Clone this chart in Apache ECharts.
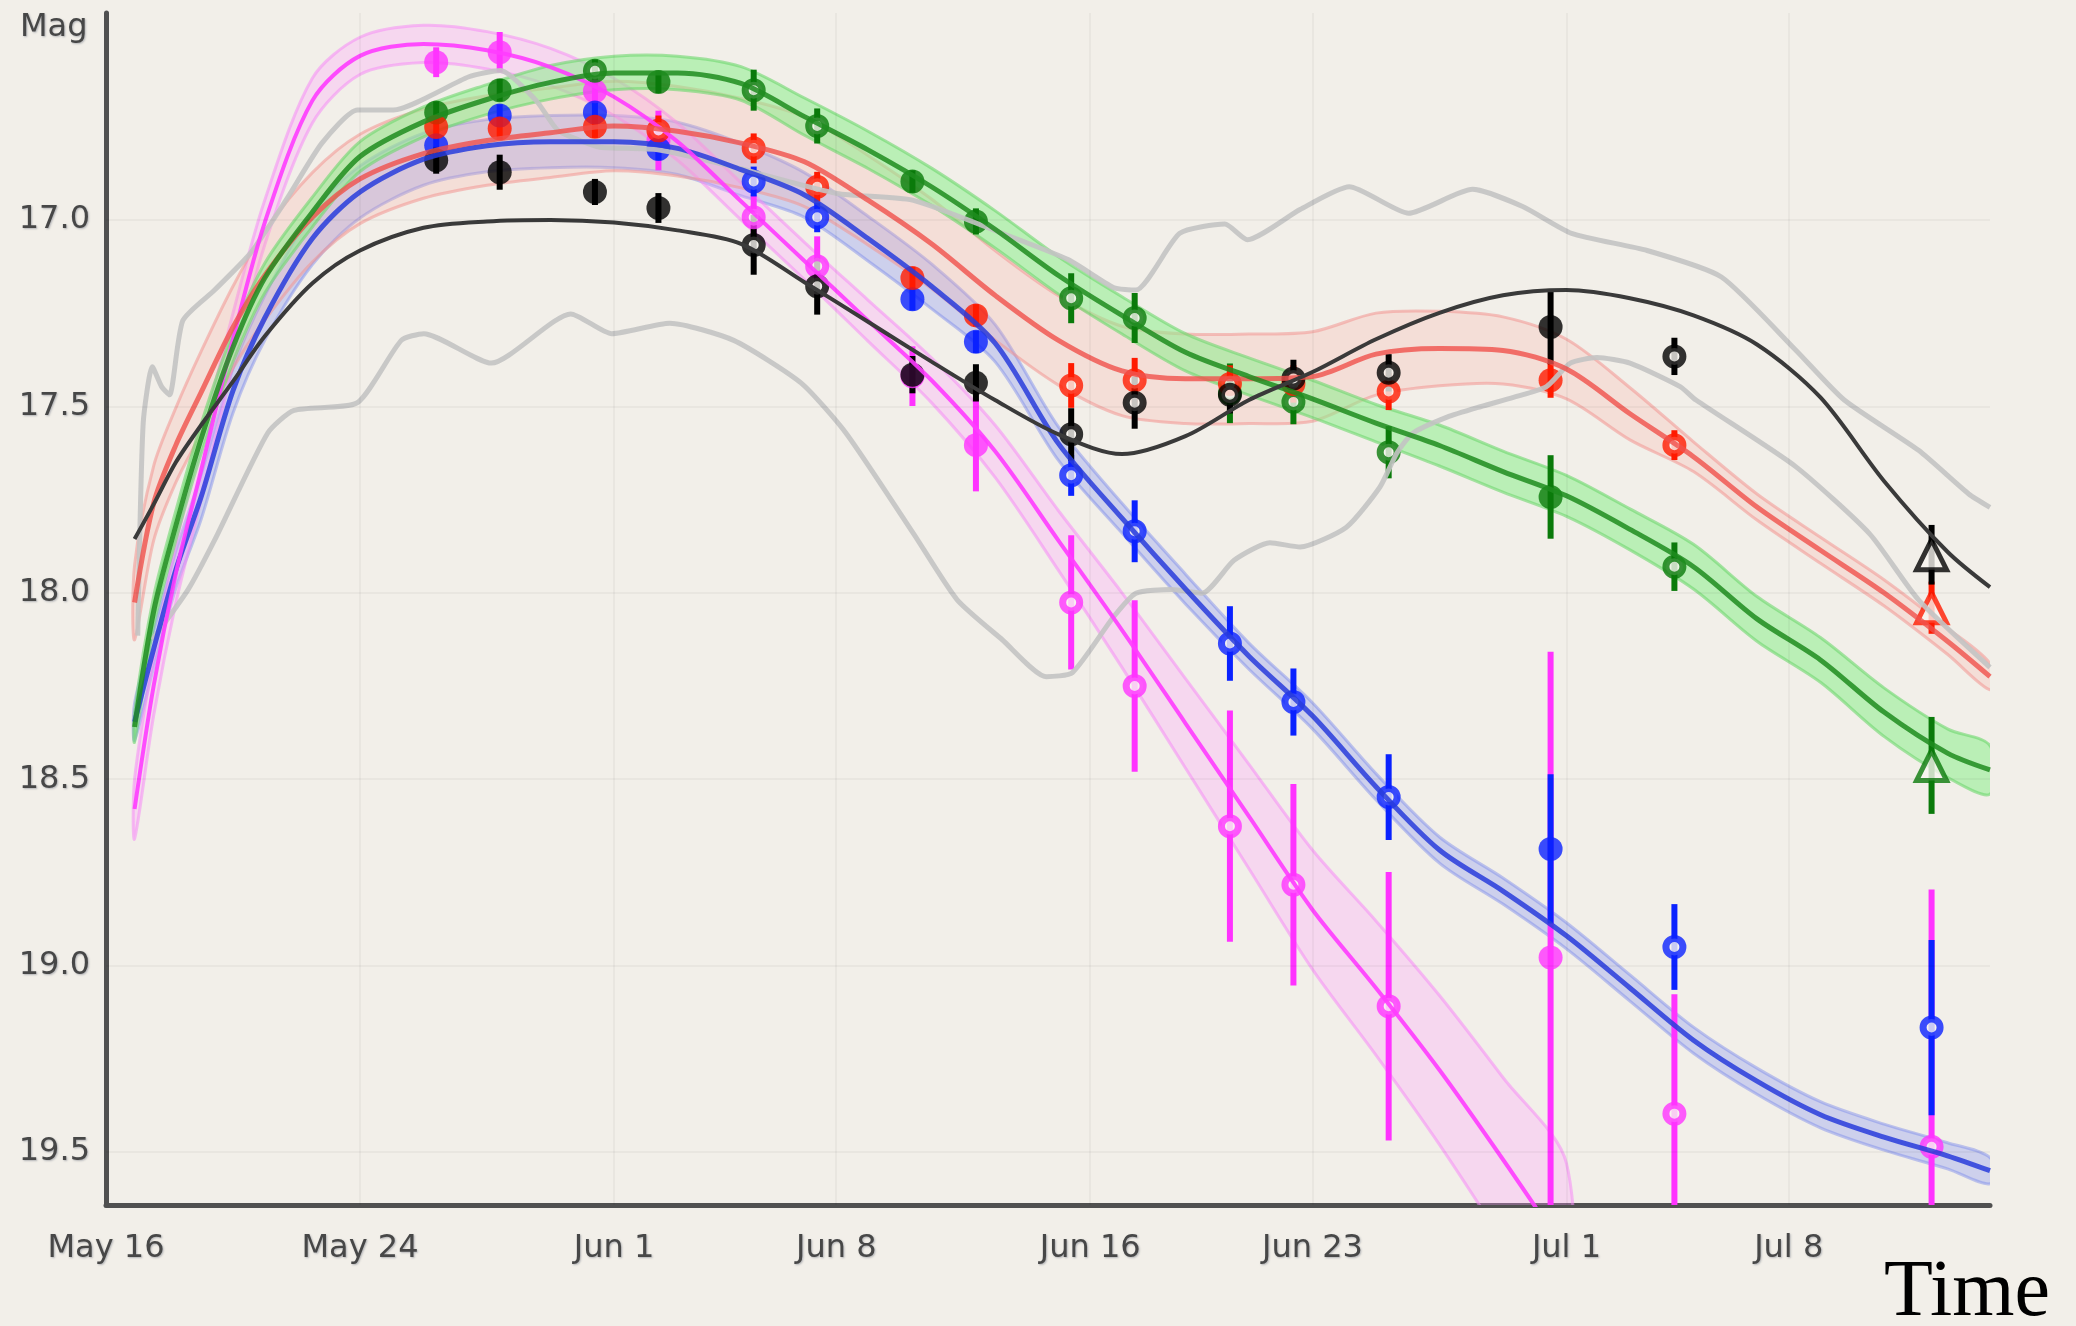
<!DOCTYPE html>
<html><head><meta charset="utf-8">
<script src="https://cdn.jsdelivr.net/npm/echarts@6/dist/echarts.min.js"></script>
<style>html,body{margin:0;padding:0;background:#f2efe9;}#c{width:2076px;height:1326px;}</style>
</head><body><div id="c"></div>
<script>
// ---- axis ticks ----
const xTickDays = [0, 8, 16, 23, 31, 38, 46, 53];
const xTickLabels = ['May 16', 'May 24', 'Jun 1', 'Jun 8', 'Jun 16', 'Jun 23', 'Jul 1', 'Jul 8'];
const yTicks = [17.0, 17.5, 18.0, 18.5, 19.0, 19.5];

// ---- observations (days since May 16) ----
const obsDay = [10.4, 12.4, 15.4, 17.4, 20.4, 22.4, 25.4, 27.4, 30.4, 32.4, 35.4, 37.4, 40.4, 45.5, 49.4, 57.5];
const greenMag = [16.712, 16.652, 16.600, 16.630, 16.652, 16.748, 16.897, 17.004, 17.210, 17.263, 17.465, 17.488, 17.623, 17.743, 17.930, 18.463];
const greenErr = [0.03, 0.03, 0.03, 0.03, 0.055, 0.047, 0.03, 0.035, 0.067, 0.067, 0.08, 0.06, 0.07, 0.112, 0.065, 0.13];
const greenKind = ['f','f','o','f','o','o','f','f','o','o','o','o','o','f','o','t'];
const redMag = [16.751, 16.755, 16.750, 16.760, 16.808, 16.911, 17.156, 17.256, 17.444, 17.430, 17.440, 17.440, 17.460, 17.430, 17.604, 18.040];
const redErr = [0.03, 0.03, 0.03, 0.04, 0.04, 0.04, 0.03, 0.03, 0.06, 0.06, 0.05, 0.05, 0.05, 0.047, 0.04, 0.07];
const redKind = ['f','f','f','o','o','o','f','f','o','o','o','o','o','f','o','t'];
const blueMag = [16.800, 16.720, 16.712, 16.810, 16.897, 16.993, 17.213, 17.327, 17.685, 17.835, 18.136, 18.293, 18.548, 18.687, 18.950, 19.166];
const blueErr = [0.03, 0.03, 0.03, 0.03, 0.04, 0.04, 0.03, 0.03, 0.055, 0.083, 0.1, 0.09, 0.115, 0.2, 0.115, 0.235];
const blueKind = ['f','f','f','f','o','o','f','f','o','o','o','o','o','f','o','o'];
const magentaMag = [16.577, 16.550, 16.655, 16.787, 16.993, 17.124, 17.419, 17.604, 18.026, 18.250, 18.626, 18.783, 19.109, 18.978, 19.397, 19.486];
const magentaErr = [0.04, 0.054, 0.03, 0.08, 0.06, 0.08, 0.08, 0.124, 0.18, 0.23, 0.31, 0.27, 0.36, 0.82, 0.32, 0.69];
const magentaKind = ['f','f','f','f','o','o','f','f','o','o','o','o','o','f','o','o'];
const blackMag = [16.840, 16.872, 16.925, 16.968, 17.067, 17.178, 17.415, 17.437, 17.575, 17.490, 17.469, 17.425, 17.410, 17.287, 17.366, 17.898];
const blackErr = [0.036, 0.047, 0.035, 0.04, 0.08, 0.076, 0.05, 0.05, 0.07, 0.07, 0.05, 0.05, 0.05, 0.1, 0.05, 0.08];
const blackKind = ['f','f','f','f','o','o','f','f','o','o','o','o','o','f','o','t'];

// ---- model curves ----
const modelDay = [0.9, 1.5, 2.2, 3, 4, 5, 6.5, 8, 10, 12, 14, 16, 18, 20, 22, 24, 26, 28, 30, 32, 34, 36, 38, 40, 42, 44, 46, 48, 50, 52, 54, 56, 58, 59.34];
const blackModel = [17.856, 17.763, 17.65, 17.55, 17.433, 17.312, 17.17, 17.082, 17.021, 17.004, 17.000, 17.007, 17.028, 17.064, 17.167, 17.273, 17.380, 17.483, 17.575, 17.628, 17.580, 17.483, 17.408, 17.320, 17.249, 17.202, 17.188, 17.210, 17.256, 17.334, 17.476, 17.700, 17.890, 17.985];
const greenModel = [18.36, 18.05, 17.82, 17.586, 17.341, 17.156, 16.979, 16.830, 16.737, 16.677, 16.631, 16.606, 16.606, 16.634, 16.723, 16.812, 16.911, 17.025, 17.149, 17.256, 17.355, 17.42, 17.48, 17.545, 17.605, 17.675, 17.74, 17.83, 17.93, 18.07, 18.18, 18.32, 18.43, 18.475];
const greenBand = [0.04, 0.04, 0.04, 0.04, 0.04, 0.04, 0.04, 0.04, 0.04, 0.04, 0.045, 0.045, 0.045, 0.045, 0.05, 0.05, 0.05, 0.05, 0.05, 0.05, 0.05, 0.05, 0.05, 0.05, 0.055, 0.055, 0.055, 0.055, 0.06, 0.06, 0.06, 0.065, 0.065, 0.065];
const redModel = [18.026, 17.760, 17.604, 17.462, 17.288, 17.149, 16.993, 16.890, 16.822, 16.787, 16.766, 16.748, 16.762, 16.794, 16.844, 16.947, 17.064, 17.202, 17.323, 17.405, 17.426, 17.426, 17.42, 17.36, 17.345, 17.35, 17.40, 17.52, 17.635, 17.77, 17.886, 18.0, 18.13, 18.225];
const redBand = [0.1, 0.1, 0.1, 0.11, 0.11, 0.12, 0.12, 0.12, 0.12, 0.12, 0.12, 0.12, 0.12, 0.12, 0.12, 0.12, 0.12, 0.12, 0.12, 0.12, 0.12, 0.12, 0.12, 0.11, 0.10, 0.09, 0.08, 0.07, 0.04, 0.035, 0.035, 0.035, 0.035, 0.035];
const blueModel = [18.346, 18.151, 17.938, 17.742, 17.458, 17.263, 17.050, 16.925, 16.837, 16.801, 16.790, 16.790, 16.808, 16.865, 16.933, 17.050, 17.178, 17.33, 17.60, 17.80, 17.99, 18.17, 18.33, 18.52, 18.69, 18.80, 18.92, 19.06, 19.20, 19.31, 19.40, 19.46, 19.51, 19.55];
const blueBand = [0.05, 0.05, 0.05, 0.06, 0.06, 0.06, 0.07, 0.07, 0.07, 0.07, 0.07, 0.07, 0.07, 0.07, 0.06, 0.06, 0.06, 0.05, 0.045, 0.04, 0.04, 0.035, 0.035, 0.035, 0.035, 0.035, 0.035, 0.035, 0.035, 0.035, 0.035, 0.035, 0.035, 0.035];
const magentaModel = [18.58, 18.25, 17.948, 17.67, 17.32, 17.007, 16.68, 16.56, 16.528, 16.545, 16.59, 16.67, 16.79, 16.95, 17.11, 17.27, 17.43, 17.62, 17.86, 18.10, 18.35, 18.60, 18.85, 19.06, 19.28, 19.52, 19.77];
const magentaBand = [0.08, 0.08, 0.08, 0.08, 0.07, 0.06, 0.06, 0.05, 0.05, 0.05, 0.05, 0.05, 0.05, 0.05, 0.05, 0.055, 0.06, 0.07, 0.08, 0.1, 0.12, 0.14, 0.16, 0.18, 0.2, 0.22, 0.24];

// ---- grey envelope curves ----
const grayUpDay = [1.0, 1.17, 1.46, 1.75, 2.0, 2.42, 3.42, 4.55, 5.67, 6.80, 7.92, 9.05, 11.43, 12.43, 13.55, 14.22, 14.93, 15.55, 17.39, 19.77, 23.02, 25.40, 28.23, 30.32, 31.73, 32.44, 33.82, 35.24, 35.95, 37.61, 39.16, 41.03, 43.04, 44.62, 46.16, 48.54, 50.88, 53.21, 54.75, 57.09, 58.67, 59.34];
const grayUpMag = [18.115, 17.547, 17.394, 17.447, 17.469, 17.270, 17.188, 17.089, 16.947, 16.794, 16.705, 16.705, 16.616, 16.599, 16.680, 16.759, 16.787, 16.805, 16.812, 16.858, 16.929, 16.947, 17.036, 17.107, 17.181, 17.188, 17.036, 17.011, 17.053, 16.972, 16.911, 16.982, 16.918, 16.964, 17.036, 17.082, 17.153, 17.348, 17.483, 17.618, 17.735, 17.771];
const grayLoDay = [1.46, 2.59, 3.42, 5.09, 5.92, 7.92, 9.30, 10.01, 12.14, 14.64, 15.93, 17.76, 19.77, 21.89, 23.31, 25.44, 26.81, 28.23, 29.61, 30.44, 31.73, 32.44, 33.57, 34.53, 35.53, 36.66, 37.61, 39.07, 40.12, 40.66, 41.16, 42.24, 43.29, 44.33, 45.37, 46.12, 46.96, 48.00, 49.58, 50.08, 53.21, 55.55, 57.09, 59.34];
const grayLoMag = [18.126, 17.991, 17.859, 17.572, 17.511, 17.490, 17.323, 17.305, 17.384, 17.252, 17.305, 17.277, 17.323, 17.437, 17.572, 17.842, 18.019, 18.126, 18.225, 18.214, 18.065, 18.001, 17.991, 18.001, 17.913, 17.866, 17.877, 17.824, 17.717, 17.625, 17.572, 17.529, 17.501, 17.476, 17.447, 17.384, 17.369, 17.384, 17.447, 17.483, 17.661, 17.842, 18.019, 18.200];

// ---- styling ----
const COL = { green: '#0a7a0a', red: '#ff1a00', blue: '#0a22ff', magenta: '#ff33ff', black: '#000000' };
const OPEN_FILL = '#f7f5f0';

function clipRect(cs) { return { type: 'rect', shape: { x: cs.x, y: cs.y, width: cs.width, height: cs.height } }; }

function bandSeries(days, mid, hw, fill, stroke) {
  return {
    type: 'custom', silent: true, animation: false,
    data: [[days[0], mid[0]]], encode: { x: 0, y: 1 },
    renderItem: function (params, api) {
      const cs = params.coordSys;
      const top = days.map((d, i) => api.coord([d, mid[i] - hw[i]]));
      const bot = days.map((d, i) => api.coord([d, mid[i] + hw[i]])).reverse();
      return { type: 'polygon', shape: { points: top.concat(bot), smooth: 0.3 },
        style: { fill: fill, stroke: stroke, lineWidth: 3 }, clipPath: clipRect(cs) };
    }
  };
}
function lineSeries(days, mags, color, width, smooth) {
  return { type: 'line', silent: true, showSymbol: false, symbol: 'none', smooth: smooth, animation: false,
    data: days.map((d, i) => [d, mags[i]]), lineStyle: { color: color, width: width } };
}
function errSeries(mags, errs, color) {
  return {
    type: 'custom', silent: true, animation: false,
    data: obsDay.map((d, i) => [d, mags[i], errs[i]]), encode: { x: 0, y: 1 },
    renderItem: function (params, api) {
      const cs = params.coordSys;
      const x = api.value(0), y = api.value(1), e = api.value(2);
      const p1 = api.coord([x, y - e]), p2 = api.coord([x, y + e]);
      const lo = cs.y, hi = cs.y + cs.height;
      return { type: 'line', shape: { x1: p1[0], y1: Math.max(lo, Math.min(hi, p1[1])), x2: p2[0], y2: Math.max(lo, Math.min(hi, p2[1])) },
        style: { stroke: color, lineWidth: 6 } };
    }
  };
}
function pointSeries(mags, kinds, color) {
  return {
    type: 'scatter', silent: true, animation: false,
    data: obsDay.map((d, i) => {
      const k = kinds[i];
      if (k === 'f') return { value: [d, mags[i]], symbol: 'circle', symbolSize: 24, itemStyle: { color: color, borderWidth: 0 } };
      if (k === 't') return { value: [d, mags[i]], symbol: 'triangle', symbolSize: 30, itemStyle: { color: OPEN_FILL, borderColor: color, borderWidth: 5 } };
      return { value: [d, mags[i]], symbol: 'circle', symbolSize: 17, itemStyle: { color: OPEN_FILL, borderColor: color, borderWidth: 7 } };
    })
  };
}

const labelFont = { fontFamily: 'DejaVu Sans', fontSize: 32, color: '#474747',
  textShadowColor: 'rgba(60,70,90,0.35)', textShadowBlur: 2, textShadowOffsetX: 1, textShadowOffsetY: 1 };

const gridMarks = yTicks.map(v => ({ yAxis: v })).concat(xTickDays.slice(1).map(v => ({ xAxis: v })));

const magDays = modelDay.slice(0, magentaModel.length);

const series = [
  { type: 'line', silent: true, data: [[0, 17]], showSymbol: false, lineStyle: { opacity: 0 },
    markLine: { silent: true, symbol: ['none', 'none'], label: { show: false }, animation: false,
      lineStyle: { color: 'rgba(0,0,0,0.035)', width: 2, type: 'solid' }, data: gridMarks } },
  bandSeries(modelDay, blueModel, blueBand, 'rgba(120,135,245,0.30)', 'rgba(120,135,235,0.45)'),
  bandSeries(magDays, magentaModel, magentaBand, 'rgba(255,160,255,0.30)', 'rgba(245,140,245,0.55)'),
  bandSeries(modelDay, redModel, redBand, 'rgba(250,170,165,0.25)', 'rgba(242,150,145,0.55)'),
  bandSeries(modelDay, greenModel, greenBand, 'rgba(140,238,140,0.55)', 'rgba(110,215,110,0.6)'),
  lineSeries(grayUpDay, grayUpMag, 'rgba(195,195,195,0.9)', 5, 0.2),
  lineSeries(grayLoDay, grayLoMag, 'rgba(195,195,195,0.9)', 5, 0.2),
  lineSeries(modelDay, blueModel, 'rgba(40,60,220,0.85)', 5, 0.3),
  lineSeries(magDays, magentaModel, 'rgba(255,60,255,0.9)', 4, 0.3),
  lineSeries(modelDay, redModel, 'rgba(240,80,75,0.8)', 5, 0.3),
  lineSeries(modelDay, greenModel, 'rgba(30,140,30,0.85)', 5, 0.3),
  lineSeries(modelDay, blackModel, '#3a3a3a', 4, 0.3),
  errSeries(magentaMag, magentaErr, COL.magenta), pointSeries(magentaMag, magentaKind, COL.magenta),
  errSeries(blueMag, blueErr, COL.blue), pointSeries(blueMag, blueKind, COL.blue),
  errSeries(greenMag, greenErr, COL.green), pointSeries(greenMag, greenKind, COL.green),
  errSeries(redMag, redErr, COL.red), pointSeries(redMag, redKind, COL.red),
  errSeries(blackMag, blackErr, COL.black), pointSeries(blackMag, blackKind, COL.black)
];

const chart = echarts.init(document.getElementById('c'), null, { renderer: 'canvas' });
chart.setOption({
  backgroundColor: '#f2efe9',
  animation: false,
  title: [
    { text: 'Mag', left: 20, top: 12, padding: 0, textStyle: { fontFamily: 'DejaVu Sans', fontSize: 32, fontWeight: 'normal', color: '#474747',
      textShadowColor: 'rgba(60,70,90,0.35)', textShadowBlur: 2, textShadowOffsetX: 1, textShadowOffsetY: 1 } },
    { text: 'Time', right: 26, top: 1254, padding: 0, textStyle: { fontFamily: 'Liberation Serif', fontSize: 80, fontWeight: 'normal', color: '#000000' } }
  ],
  grid: { left: 106, right: 86, top: 13, bottom: 121, containLabel: false, outerBoundsMode: 'none' },
  xAxis: {
    type: 'value', min: 0, max: 59.34,
    axisLine: { show: true, lineStyle: { color: '#505050', width: 5 } },
    axisTick: { show: false }, splitLine: { show: false },
    axisLabel: Object.assign({ customValues: xTickDays, margin: 28,
      formatter: v => { const i = xTickDays.indexOf(v); return i >= 0 ? xTickLabels[i] : ''; } }, labelFont)
  },
  yAxis: {
    type: 'value', inverse: true, min: 16.445, max: 19.642,
    axisLine: { show: true, lineStyle: { color: '#505050', width: 5 } },
    axisTick: { show: false }, splitLine: { show: false },
    axisLabel: Object.assign({ customValues: yTicks, margin: 16, formatter: v => v.toFixed(1) }, labelFont)
  },
  series: series
});
</script></body></html>
